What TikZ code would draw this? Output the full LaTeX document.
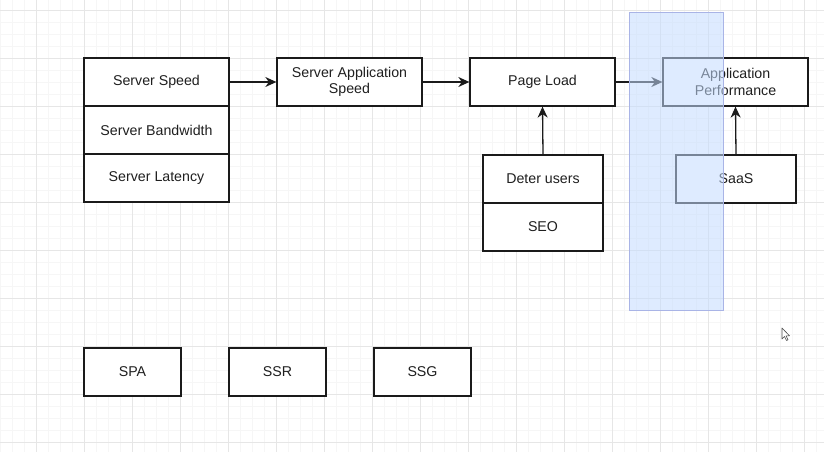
\documentclass[tikz,border=0pt]{standalone}
\usepackage{fontspec}
\setmainfont{Liberation Sans}
\usetikzlibrary{arrows.meta}
\definecolor{gridminor}{HTML}{F6F6F6}
\definecolor{gridmajor}{HTML}{E6E6E6}
\definecolor{boxline}{HTML}{1A1A1A}
\definecolor{selfill}{HTML}{C4DCFF}
\definecolor{selline}{HTML}{A9B4E6}
\tikzset{
  box/.style={draw=boxline, line width=1.3pt, fill=white, minimum width=145pt, minimum height=48pt, inner sep=2pt, font=\fontsize{14.2}{16.5}\selectfont, align=center, text=black!88},
  smallbox/.style={box, minimum width=120pt},
  tinybox/.style={box, minimum width=97pt},
  conn/.style={draw=boxline, line width=1.3pt, -{Stealth[length=11pt,width=10pt,inset=3.5pt]}},
}
\begin{document}
\begin{tikzpicture}[x=1pt,y=-1pt]
\useasboundingbox (0,0) rectangle (824,452);
\fill[white] (0,0) rectangle (824,452);
% grid
\foreach \x in {0,12,...,824} \draw[gridminor, line width=0.6pt] (\x,0) -- (\x,452);
\foreach \y in {-2,10,...,452} \draw[gridminor, line width=0.6pt] (0,\y) -- (824,\y);
\foreach \x in {36,84,...,824} \draw[gridmajor, line width=0.9pt] (\x,0) -- (\x,452);
\foreach \y in {10,58,...,452} \draw[gridmajor, line width=0.9pt] (0,\y) -- (824,\y);
% boxes
\node[box] (speed) at (156.5,82) {Server Speed};
\node[box] (bw) at (156.5,130) {Server Bandwidth};
\node[box] (lat) at (156.5,178) {Server Latency};
\node[box] (app) at (349.5,82) {Server Application\\Speed};
\node[box] (page) at (542.5,82) {Page Load};
\node[box] (perf) at (735.5,82) {Application\\Performance};
\node[smallbox] (deter) at (543,179) {Deter users};
\node[smallbox] (seo) at (543,227) {SEO};
\node[smallbox] (saas) at (736,179) {SaaS};
\node[tinybox] (spa) at (132.5,372) {SPA};
\node[tinybox] (ssr) at (277.5,372) {SSR};
\node[tinybox] (ssg) at (422.5,372) {SSG};
% connectors
\draw[conn] (speed.east) -- (app.west);
\draw[conn] (app.east) -- (page.west);
\draw[conn] (page.east) -- (perf.west);
\draw[conn] (deter.north) -- (page.south);
\draw[conn] (saas.north) -- (perf.south);
% selection rectangle
\draw[selline, fill=selfill, fill opacity=0.55, line width=0.8pt] (629,12) rectangle (723,310);
% mouse cursor
\draw[black!70, fill=white, line width=0.6pt, line join=round] (782,328) -- (782,339) -- (784.5,336.5) -- (786.5,340.5) -- (788,339.8) -- (786,335.8) -- (789.5,335.8) -- cycle;
\end{tikzpicture}
\end{document}
